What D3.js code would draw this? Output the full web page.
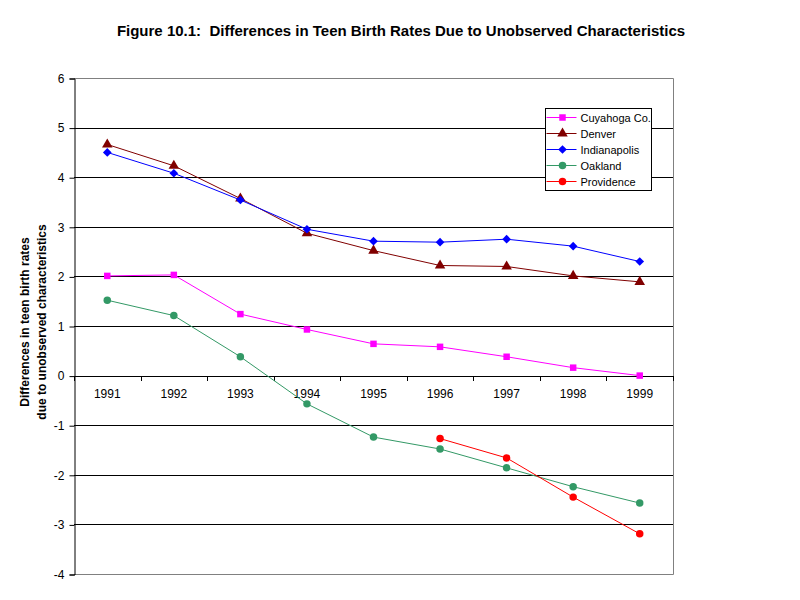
<!DOCTYPE html>
<html>
<head>
<meta charset="utf-8">
<script src="https://cdn.jsdelivr.net/npm/d3@7"></script>
<style>
  body { margin: 0; background: #fff; }
  text { font-family: Arial, "Liberation Sans", sans-serif; }
</style>
</head>
<body>
<script>
// Data
var years = ["1991", "1992", "1993", "1994", "1995", "1996", "1997", "1998", "1999"];
var yTicks = [-4, -3, -2, -1, 0, 1, 2, 3, 4, 5, 6];

var cuyahoga     = [2.01, 2.03, 1.24, 0.93, 0.64, 0.58, 0.38, 0.16, 0.0];
var denver       = [4.66, 4.23, 3.57, 2.87, 2.52, 2.22, 2.20, 2.01, 1.89];
var indianapolis = [4.50, 4.08, 3.54, 2.95, 2.71, 2.69, 2.75, 2.61, 2.30];
var oakland      = [1.52, 1.21, 0.38, -0.57, -1.24, -1.48, -1.86, -2.24, -2.57];
var providence   = [null, null, null, null, null, -1.27, -1.66, -2.45, -3.19];

var seriesNames = ["Cuyahoga Co.", "Denver", "Indianapolis", "Oakland", "Providence"];
var seriesColors = ["#FF00FF", "#800000", "#0000FF", "#339966", "#FF0000"];
var seriesData = [cuyahoga, denver, indianapolis, oakland, providence];
var seriesShapes = [d3.symbolSquare, d3.symbolTriangle, d3.symbolDiamond2, d3.symbolCircle, d3.symbolCircle];
var shapeSizes = [42, 48, 48, 44, 44];

var width = 800, height = 600;
var plotL = 74, plotR = 673, plotT = 78, plotB = 574;

var svg = d3.select("body").append("svg")
    .attr("width", width)
    .attr("height", height);

var x = d3.scaleBand()
    .domain(years)
    .range([plotL, plotR]);

var y = d3.scaleLinear()
    .domain([-4, 6])
    .range([plotB, plotT]);

// title
svg.append("text")
    .attr("x", 401)
    .attr("y", 36)
    .attr("text-anchor", "middle")
    .style("font-size", "15px")
    .style("font-weight", "bold")
    .style("white-space", "pre")
    .text("Figure 10.1:  Differences in Teen Birth Rates Due to Unobserved Characteristics");

// gridlines
svg.selectAll("line.grid")
    .data(yTicks.filter(function(d){ return d > -4 && d < 6; }))
    .enter()
    .append("line")
    .attr("class", "grid")
    .attr("x1", plotL)
    .attr("x2", plotR)
    .attr("y1", function(d){ return Math.round(y(d)) + 0.5; })
    .attr("y2", function(d){ return Math.round(y(d)) + 0.5; })
    .attr("stroke", "#000")
    .attr("stroke-width", 1);

// plot area border (gray)
svg.append("path")
    .attr("d", "M" + plotL + "," + (plotT + 0.5) + "H" + (plotR + 0.5) + "V" + (plotB + 0.5) + "H" + plotL)
    .attr("fill", "none")
    .attr("stroke", "#808080")
    .attr("stroke-width", 1);

// y axis
var yAxis = svg.append("g")
    .attr("transform", "translate(" + (plotL + 0.5) + ",0.5)")
    .call(d3.axisLeft(y).tickValues(yTicks).tickSize(5).tickPadding(5)
        .tickFormat(function(d){ return String(d); }));
yAxis.select(".domain").attr("stroke", "#000");
yAxis.selectAll("text").style("font-size", "12px").attr("fill", "#000");

// x axis at zero, ticks on category boundaries
var boundaries = years.map(function(d){ return x(d); }).concat([plotR]);
svg.append("line")
    .attr("x1", plotL)
    .attr("x2", plotR)
    .attr("y1", Math.round(y(0)) + 0.5)
    .attr("y2", Math.round(y(0)) + 0.5)
    .attr("stroke", "#000");
svg.selectAll("line.xtick")
    .data(boundaries)
    .enter()
    .append("line")
    .attr("class", "xtick")
    .attr("x1", function(d){ return Math.round(d) + 0.5; })
    .attr("x2", function(d){ return Math.round(d) + 0.5; })
    .attr("y1", Math.round(y(0)))
    .attr("y2", Math.round(y(0)) + 5)
    .attr("stroke", "#000");
svg.selectAll("text.xlab")
    .data(years)
    .enter()
    .append("text")
    .attr("class", "xlab")
    .attr("x", function(d){ return x(d) + x.bandwidth() / 2; })
    .attr("y", y(0) + 22)
    .attr("text-anchor", "middle")
    .style("font-size", "12px")
    .text(function(d){ return d; });

// y axis title
var yt = svg.append("text")
    .attr("transform", "translate(0," + 322 + ") rotate(-90)")
    .attr("text-anchor", "middle")
    .style("font-size", "12px")
    .style("font-weight", "bold");
yt.append("tspan").attr("x", 0).attr("y", 29).text("Differences in teen birth rates");
yt.append("tspan").attr("x", 0).attr("y", 46).text("due to unobserved characteristics");

// series
var line = d3.line()
    .defined(function(d){ return d !== null; })
    .x(function(d, i){ return x(years[i]) + x.bandwidth() / 2; })
    .y(function(d){ return y(d); });

seriesData.forEach(function(vals, s){
    svg.append("path")
        .datum(vals)
        .attr("d", line)
        .attr("fill", "none")
        .attr("stroke", seriesColors[s])
        .attr("stroke-width", 1);

    svg.selectAll("path.m" + s)
        .data(vals.map(function(v, i){ return {v: v, i: i}; }).filter(function(d){ return d.v !== null; }))
        .enter()
        .append("path")
        .attr("class", "m" + s)
        .attr("d", d3.symbol().type(seriesShapes[s]).size(shapeSizes[s]))
        .attr("transform", function(d){
            return "translate(" + (x(years[d.i]) + x.bandwidth() / 2) + "," + y(d.v) + ")";
        })
        .attr("fill", seriesColors[s]);
});

// legend
var lg = svg.append("g").attr("transform", "translate(545.5,108.5)");
lg.append("rect")
    .attr("width", 106)
    .attr("height", 82)
    .attr("fill", "#fff")
    .attr("stroke", "#000");
seriesNames.forEach(function(name, s){
    var ly = 9 + s * 16;
    lg.append("line")
        .attr("x1", 1).attr("x2", 31)
        .attr("y1", ly).attr("y2", ly)
        .attr("stroke", seriesColors[s]);
    lg.append("path")
        .attr("d", d3.symbol().type(seriesShapes[s]).size(shapeSizes[s]))
        .attr("transform", "translate(17," + ly + ")")
        .attr("fill", seriesColors[s]);
    lg.append("text")
        .attr("x", 35)
        .attr("y", ly + 4)
        .style("font-size", "11px")
        .text(name);
});
</script>
</body>
</html>
